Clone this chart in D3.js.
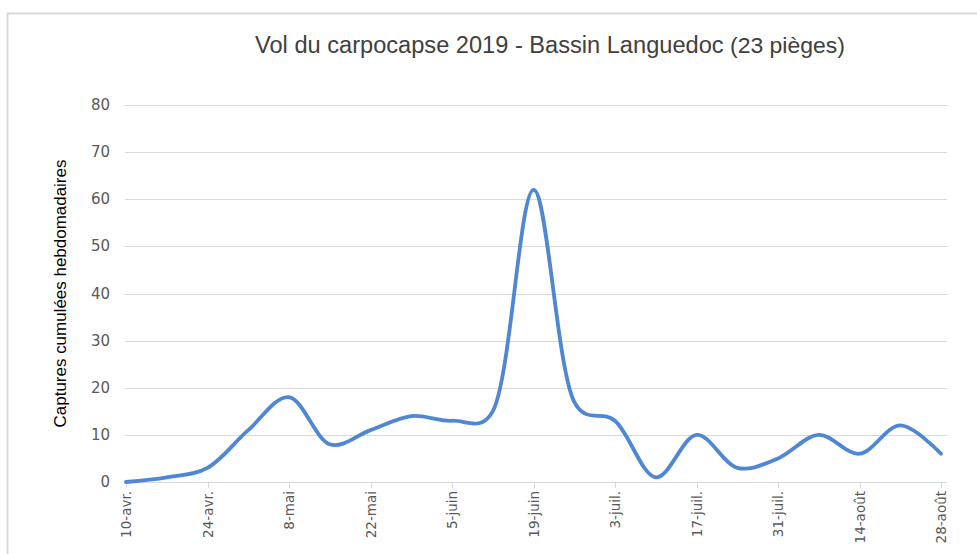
<!DOCTYPE html>
<html>
<head>
<meta charset="utf-8">
<script src="https://cdn.jsdelivr.net/npm/d3@7"></script>
<style>
  body { margin: 0; background: #ffffff; }
  svg { display: block; }
</style>
</head>
<body>
<svg id="chart" width="977" height="554"></svg>
<script>
(function() {
  var weeks = ["10-avr.", "17-avr.", "24-avr.", "1-mai", "8-mai", "15-mai", "22-mai", "29-mai",
    "5-juin", "12-juin", "19-juin", "26-juin", "3-juil.", "10-juil.", "17-juil.", "24-juil.",
    "31-juil.", "7-août", "14-août", "21-août", "28-août"];
  var captures = [0, 1, 3, 11, 18, 8, 11, 14, 13, 15, 62, 17, 13, 1, 10, 3, 5, 10, 6, 12, 6];
  var yTicks = [0, 10, 20, 30, 40, 50, 60, 70, 80];
  var titleMain = "Vol du carpocapse 2019 - Bassin Languedoc";
  var titleSmall = "(23 pièges)";
  var yTitle = "Captures cumulées hebdomadaires";

  var svg = d3.select("#chart");
  var lineColor = "#4f87d4";

  // outer frame (only top and left visible)
  svg.append("rect")
    .attr("x", 7.5).attr("y", 13.5)
    .attr("width", 1000).attr("height", 600)
    .attr("fill", "none")
    .attr("stroke", "#d9d9d9")
    .attr("stroke-width", 2);

  var x = d3.scalePoint().domain(weeks).range([126, 941]).padding(0);
  var y = d3.scaleLinear().domain([0, 80]).range([482, 105]);

  // grid lines
  svg.append("g")
    .attr("stroke", "#d9d9d9")
    .attr("stroke-width", 1)
    .selectAll("line").data(yTicks).enter().append("line")
    .attr("x1", 125).attr("x2", 947)
    .attr("y1", function(d) { return Math.round(y(d)) + 0.5 })
    .attr("y2", function(d) { return Math.round(y(d)) + 0.5 });

  // y labels
  svg.append("g")
    .attr("fill", "#595959")
    .attr("font-family", "DejaVu Sans")
    .attr("font-size", 15)
    .attr("text-anchor", "end")
    .attr("dominant-baseline", "central")
    .selectAll("text").data(yTicks).enter().append("text")
    .attr("x", 110)
    .attr("y", function(d) { return y(d) })
    .text(function(d) { return d });

  // x ticks and labels (every second week)
  var labelled = weeks.filter(function(d, i) { return i % 2 === 0 });
  svg.append("g")
    .attr("stroke", "#d9d9d9")
    .selectAll("line").data(labelled).enter().append("line")
    .attr("x1", function(d) { return Math.round(x(d)) + 0.5 })
    .attr("x2", function(d) { return Math.round(x(d)) + 0.5 })
    .attr("y1", 482).attr("y2", 488);

  svg.append("g")
    .attr("fill", "#595959")
    .attr("font-family", "DejaVu Sans")
    .attr("font-size", 13.5)
    .attr("text-anchor", "end")
    .attr("dominant-baseline", "central")
    .selectAll("text").data(labelled).enter().append("text")
    .attr("transform", function(d) { return "translate(" + x(d) + ",491) rotate(-90)" })
    .text(function(d) { return d });

  // smoothed line
  var line = d3.line()
    .x(function(d, i) { return x(weeks[i]) })
    .y(function(d) { return y(d) })
    .curve(d3.curveCatmullRom.alpha(0.25));

  svg.append("path")
    .datum(captures)
    .attr("fill", "none")
    .attr("stroke", lineColor)
    .attr("stroke-width", 3.8)
    .attr("stroke-linecap", "round")
    .attr("stroke-linejoin", "round")
    .attr("d", line);

  // fit a text node to a given width by changing its font size
  var fitWidth = function(sel, width) {
    var fs = +sel.attr("font-size");
    var w = sel.node().getComputedTextLength();
    sel.attr("font-size", fs * width / w);
  };

  var t1 = svg.append("text")
    .attr("x", 255).attr("y", 53)
    .attr("font-family", "Liberation Sans")
    .attr("font-size", 20)
    .attr("fill", "#404040")
    .text(titleMain);
  fitWidth(t1, 469);

  var t2 = svg.append("text")
    .attr("x", 730).attr("y", 53)
    .attr("font-family", "Liberation Sans")
    .attr("font-size", 15)
    .attr("fill", "#404040")
    .text(titleSmall);
  fitWidth(t2, 115);

  var t3 = svg.append("text")
    .attr("transform", "translate(66," + (y(0) + y(80)) / 2 + ") rotate(-90)")
    .attr("text-anchor", "middle")
    .attr("font-family", "Liberation Sans")
    .attr("font-size", 15)
    .attr("fill", "#000000")
    .text(yTitle);
  fitWidth(t3, 268);
})();
</script>
</body>
</html>
